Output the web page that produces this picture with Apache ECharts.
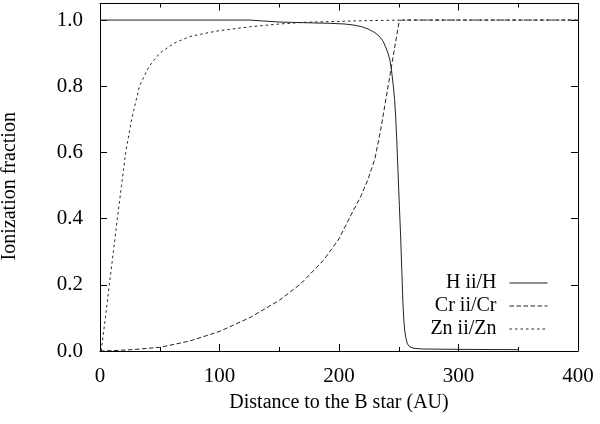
<!DOCTYPE html>
<html>
<head>
<meta charset="utf-8">
<script src="https://cdn.jsdelivr.net/npm/echarts@6/dist/echarts.min.js"></script>
<style>
html,body{margin:0;padding:0;background:#fff;}
#c{width:600px;height:424px;}
</style>
</head>
<body>
<div id="c"></div>
<script>
// Data (distance in AU, ionization fraction)
const seriesNames = ['H ii/H', 'Cr ii/Cr', 'Zn ii/Zn'];
const xTicks = [0, 100, 200, 300, 400];
const yTicks = [0.0, 0.2, 0.4, 0.6, 0.8, 1.0];

const hData = [
  [0,1],[125,1],[126,0.995],[150,0.994],[193,0.99],[205,0.988],[212,0.985],[219,0.98],
  [225,0.972],[230,0.962],[234,0.95],[237,0.935],[239,0.919],[241,0.9],[242.6,0.879],
  [243.7,0.855],[244.6,0.828],[245.5,0.8],[246.5,0.76],[247.4,0.71],[248.3,0.64],
  [249.3,0.55],[250.5,0.44],[251.6,0.344],[252.6,0.24],[253.5,0.143],[254.3,0.09],
  [255,0.062],[256,0.038],[257.2,0.022],[259,0.013],[262.8,0.008],[270,0.006],
  [300,0.005],[350,0.004]
];
const crData = [
  [0,0],[17,0.002],[30,0.005],[50,0.011],[75,0.03],[100,0.059],[126,0.102],[150,0.153],
  [168,0.203],[187,0.274],[200,0.339],[212,0.425],[218,0.465],[224,0.516],[230,0.58],
  [234.8,0.667],[238.5,0.745],[242.5,0.83],[246.5,0.915],[250.3,0.995],[252,1],[400,1]
];
const znData = [
  [1,0],[4.5,0.1],[7.8,0.2],[11.2,0.3],[14.5,0.4],[18,0.5],[21.5,0.6],[26.5,0.7],[33,0.8],
  [41,0.86],[50,0.9],[62,0.93],[75,0.95],[88,0.96],[100,0.968],[126,0.98],[150,0.988],
  [170,0.993],[200,0.996],[220,0.998],[245,0.9995],[260,1],[400,1]
];

const FONT = 'Liberation Serif';
const lineCol = '#222';
const TICKCOL = '#000';
const chart = echarts.init(document.getElementById('c'), null, {renderer: 'canvas'});

function isTick(v, list) { return list.some(t => Math.abs(t - v) < 1e-6); }

function xAxisDef(pos, withLabels) {
  return {
    type: 'value', position: pos, min: xTicks[0], max: xTicks[xTicks.length - 1], interval: 100,
    axisLine: {show: true, onZero: false, lineStyle: {color: '#000', width: 1}},
    splitLine: {show: false},
    axisTick: {show: true, inside: true, length: 7, lineStyle: {color: TICKCOL}},
    minorTick: {show: true, splitNumber: 2, length: 4, lineStyle: {color: TICKCOL}},
    axisLabel: withLabels ? {fontFamily: FONT, fontSize: 21, color: '#000', margin: 15,
      formatter: v => isTick(v, xTicks) ? String(v) : ''} : {show: false}
  };
}
function yAxisDef(pos, withLabels) {
  return {
    type: 'value', position: pos, min: 0, max: 1.05, interval: 0.2,
    axisLine: {show: true, onZero: false, lineStyle: {color: '#000', width: 1}},
    splitLine: {show: false},
    axisTick: {show: true, inside: true, length: 7, lineStyle: {color: TICKCOL}},
    axisLabel: withLabels ? {fontFamily: FONT, fontSize: 21, color: '#000', margin: 17,
      formatter: v => isTick(v, yTicks) ? v.toFixed(1) : ''} : {show: false}
  };
}

const xb = xAxisDef('bottom', true);
xb.name = 'Distance to the B star (AU)';
xb.nameLocation = 'middle';
xb.nameGap = 42;
xb.nameTextStyle = {fontFamily: FONT, fontSize: 20, color: '#000'};
const yl = yAxisDef('left', true);
yl.name = 'Ionization fraction';
yl.nameLocation = 'middle';
yl.nameGap = 80;
yl.nameTextStyle = {fontFamily: FONT, fontSize: 20, color: '#000', padding: [0, 18, 0, 0]};

const option = {
  animation: false,
  backgroundColor: '#fff',
  grid: {left: 100, right: 22, top: 3.5, bottom: 73, show: false, containLabel: false, outerBoundsMode: 'none'},
  legend: {
    data: seriesNames,
    orient: 'vertical', align: 'right',
    right: 52, top: 273, padding: 0,
    itemWidth: 38, itemHeight: 13, itemGap: 3,
    itemStyle: {opacity: 0},
    lineStyle: {width: 1},
    textStyle: {fontFamily: FONT, fontSize: 20, color: '#000', padding: [0, 8, 0, 0]}
  },
  xAxis: [xb, xAxisDef('top', false)],
  yAxis: [yl, yAxisDef('right', false)],
  series: [
    {name: seriesNames[0], type: 'line', data: hData, symbol: 'none', showSymbol: false,
     lineStyle: {color: lineCol, width: 1, type: 'solid'}, itemStyle: {color: lineCol}},
    {name: seriesNames[1], type: 'line', data: crData, symbol: 'none', showSymbol: false,
     lineStyle: {color: lineCol, width: 1, type: [4.5, 2.5]}, itemStyle: {color: lineCol}},
    {name: seriesNames[2], type: 'line', data: znData, symbol: 'none', showSymbol: false,
     lineStyle: {color: lineCol, width: 1, type: [2.5, 3]}, itemStyle: {color: lineCol}}
  ]
};
chart.setOption(option);
</script>
</body>
</html>
